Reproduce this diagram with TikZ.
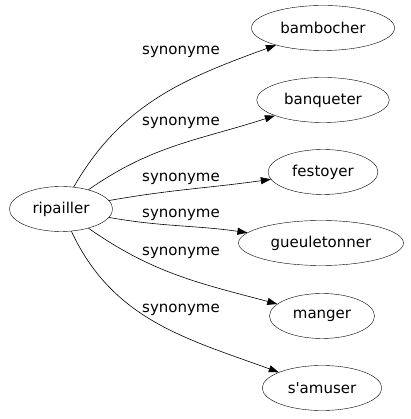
\documentclass[tikz,border=0pt]{standalone}
\usepackage{fontspec}
\setmainfont{DejaVu Sans}
\usetikzlibrary{arrows.meta,shapes.geometric}

\begin{document}
\begin{tikzpicture}[x=1pt, y=1pt,
	word/.style={draw, ellipse, minimum height=45pt, inner xsep=8pt, font=\fontsize{15}{17}\selectfont},
	syn/.style={font=\fontsize{15}{17}\selectfont, inner sep=0pt},
	rel/.style={line width=0.6pt, -{Triangle[length=10pt, width=7pt]}}]
	%%%%% START %%%%%
	
	\useasboundingbox (0, 0) rectangle (410, 419);
	
	\node[word] (ripailler) at (61, 210) {ripailler};
	
	\node[word] (bambocher) at (323, 391) {bambocher};
	\node[word] (banqueter) at (323, 319) {banqueter};
	\node[word] (festoyer) at (323, 247) {festoyer};
	\node[word] (gueuletonner) at (321, 176) {gueuletonner};
	\node[word] (manger) at (322, 103) {manger};
	\node[word] (samuser) at (322, 31) {s\textquotesingle amuser};
	
	\draw[rel] (ripailler) to[out=60, in=200] (bambocher);
	\draw[rel] (ripailler) to[out=35, in=198] (banqueter);
	\draw[rel] (ripailler) to[out=10, in=188] (festoyer);
	\draw[rel] (ripailler) to[out=-10, in=172] (gueuletonner);
	\draw[rel] (ripailler) to[out=-35, in=165] (manger);
	\draw[rel] (ripailler) to[out=-65, in=160] (samuser);
	
	\node[syn] (s1) at (181, 367) {synonyme};
	\node[syn] (s2) at (181, 296) {synonyme};
	\node[syn] (s3) at (181, 240) {synonyme};
	\node[syn] (s4) at (181, 204) {synonyme};
	\node[syn] (s5) at (181, 166) {synonyme};
	\node[syn] (s6) at (181, 109) {synonyme};
	
	%%%%% END %%%%%
\end{tikzpicture}
\end{document}
